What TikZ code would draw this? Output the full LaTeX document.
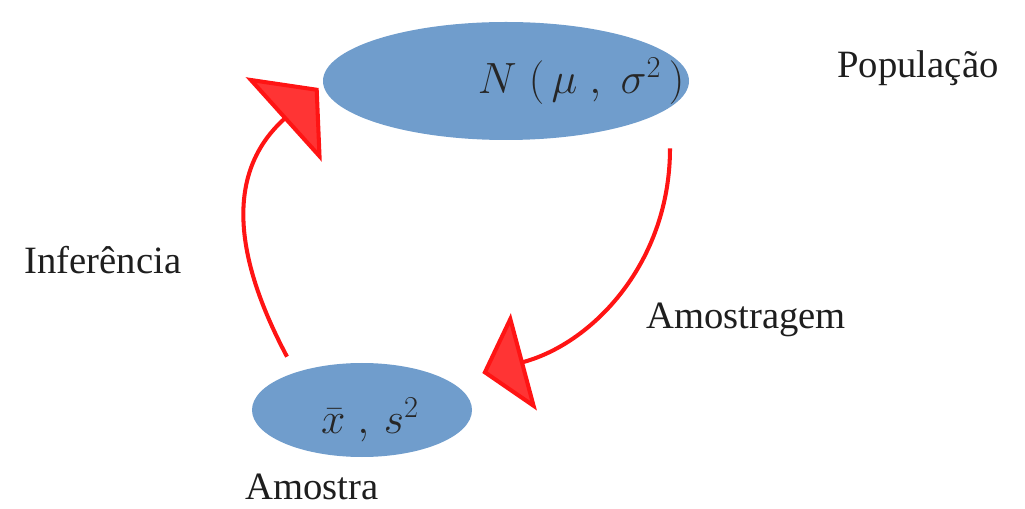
\documentclass[tikz,border=0pt]{standalone}
\usepackage{fontspec}
\setmainfont{Liberation Serif}
\usetikzlibrary{shapes.geometric,arrows.meta}

\definecolor{blobblue}{RGB}{112,157,204}
\definecolor{arrowred}{RGB}{255,20,20}
\definecolor{tipred}{RGB}{255,52,52}
\definecolor{labelgray}{RGB}{30,30,30}

\tikzset{
  blob/.style={ellipse, fill=blobblue, draw=none, inner sep=0pt},
  caption/.style={font=\fontsize{22}{26}\selectfont, text=labelgray},
  mathtext/.style={font=\fontsize{24}{28}\selectfont, text=black!85},
  cycle arrow/.style={draw=arrowred, line width=2.3pt}
}

\begin{document}
\begin{tikzpicture}
    \useasboundingbox (0,0) rectangle (20.5,10.16);

    % Ellipses
    \node[blob, minimum width=7.32cm, minimum height=2.36cm] (pop) at (10.12,8.54) {};
    \node[blob, minimum width=4.4cm, minimum height=1.88cm] (samp) at (7.24,1.96) {};

    \node[mathtext] (popmath) at (11.62,8.54) {$N\;(\,\mu\;,\;\sigma^{2}\,)$};
    \node[mathtext] (sampmath) at (7.40,1.76) {$\bar{x}\;,\,s^{2}$};

    % Labels
    \node[caption] (poplabel) at (18.36,8.80) {População};
    \node[caption] (inflabel) at (2.06,4.96) {Inferência};
    \node[caption] (amlabel) at (14.92,3.76) {Amostragem};
    \node[caption] (samplabel) at (6.24,0.42) {Amostra};

    % Arrows
    \draw[cycle arrow, -{Triangle[width=2.26cm,length=0.94cm,fill=tipred]}]
        ([xshift=-1.5cm,yshift=0.12cm]samp.north) to[out=118,in=222,looseness=1.15]
        ([xshift=-0.08cm,yshift=-0.14cm]pop.west);
    \draw[cycle arrow, -{Triangle[width=2cm,length=0.86cm,fill=tipred]}]
        ([xshift=3.28cm,yshift=-0.16cm]pop.south) to[out=-90,in=15]
        ([xshift=0.2cm,yshift=0.74cm]samp.east);
\end{tikzpicture}
\end{document}
